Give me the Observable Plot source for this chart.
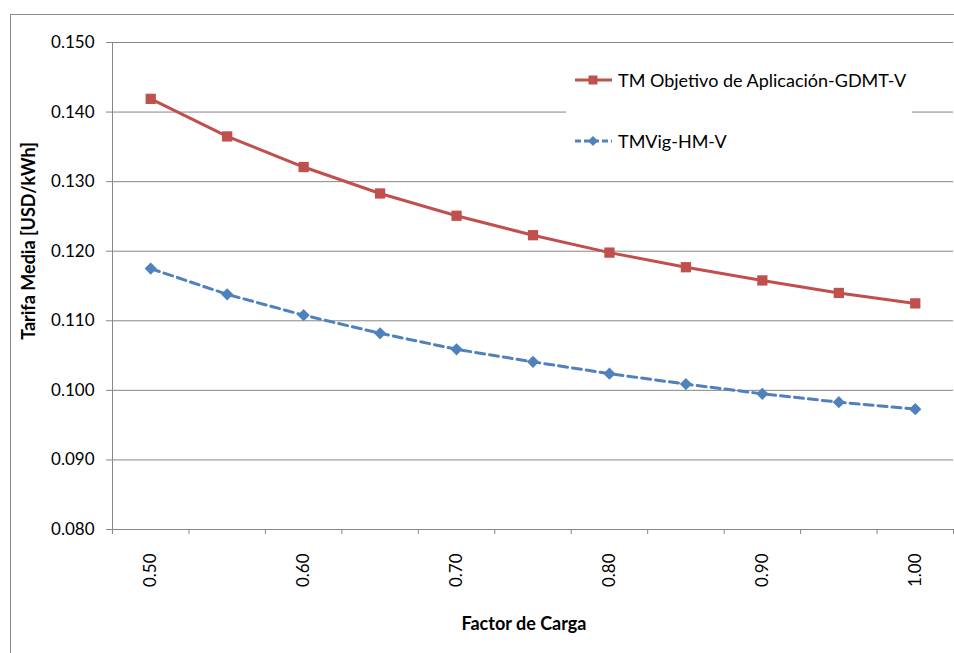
<!DOCTYPE html>
<html>
<head>
<meta charset="utf-8">
<script src="https://cdn.jsdelivr.net/npm/d3@7"></script>
<script src="https://cdn.jsdelivr.net/npm/@observablehq/plot@0.6"></script>
<style>
  html, body { margin: 0; padding: 0; background: #fff; }
  #wrap { position: relative; width: 954px; height: 653px; overflow: hidden; font-family: Lato, "Open Sans", sans-serif; }
  #frame { position: absolute; left: 10px; top: 14px; width: 1000px; height: 700px; border-left: 1px solid #8c8c8c; border-top: 1px solid #8c8c8c; }
  #legend { position: absolute; left: 566px; top: 58px; width: 346px; height: 104px; background: #fff; font-size: 18px; color: #000; }
  .item { position: absolute; left: 8px; display: flex; align-items: center; height: 24px; }
  .item svg { margin-right: 4px; }
  svg.plot text { fill: #000; }
</style>
</head>
<body>
<div id="wrap">
  <div id="frame"></div>
  <div id="chart" style="position:absolute;left:0;top:0;"></div>
  <div id="legend"></div>
</div>
<script>
const categories = [0.50, 0.55, 0.60, 0.65, 0.70, 0.75, 0.80, 0.85, 0.90, 0.95, 1.00];
const tmObjetivo = [0.1419, 0.1365, 0.1321, 0.1283, 0.1251, 0.1223, 0.1198, 0.1177, 0.1158, 0.1140, 0.1125];
const tmVig = [0.1175, 0.1138, 0.1108, 0.1082, 0.1059, 0.1041, 0.1024, 0.1009, 0.0995, 0.0983, 0.0973];
const seriesNames = ["TM Objetivo de Aplicación-GDMT-V", "TMVig-HM-V"];
const xLabelTicks = [0.50, 0.60, 0.70, 0.80, 0.90, 1.00];
const yTicks = [0.080, 0.090, 0.100, 0.110, 0.120, 0.130, 0.140, 0.150];
const xTitle = "Factor de Carga";
const yTitle = "Tarifa Media [USD/kWh]";

const red = "#C0504D", blue = "#4F81BD", grid = "#868686";
const step = 0.05;
const xDomain = [categories[0] - step / 2, categories[categories.length - 1] + step / 2];
const boundaries = d3.range(categories.length + 1).map(i => xDomain[0] + i * step);

const dataA = categories.map((c, i) => ({x: c, y: tmObjetivo[i]}));
const dataB = categories.map((c, i) => ({x: c, y: tmVig[i]}));

const plot = Plot.plot({
  width: 954,
  height: 653,
  marginLeft: 112,
  marginRight: 1,
  marginTop: 42,
  marginBottom: 124,
  style: {fontFamily: "Lato, 'Open Sans', sans-serif", fontSize: "17px", background: "transparent"},
  x: {type: "linear", domain: xDomain},
  y: {domain: [0.08, 0.15]},
  marks: [
    Plot.ruleY(yTicks.slice(1), {stroke: grid, strokeWidth: 1}),
    Plot.ruleY([yTicks[0]], {stroke: grid, strokeWidth: 1}),
    Plot.ruleX([xDomain[0]], {stroke: grid, strokeWidth: 1}),
    Plot.axisY({ticks: yTicks, tickFormat: ".3f", tickSize: 6, tickPadding: 12, stroke: grid, label: null}),
    Plot.axisX({ticks: boundaries, tickFormat: () => "", tickSize: 5, stroke: grid, label: null}),
    Plot.axisX({ticks: xLabelTicks, tickFormat: ".2f", tickSize: 0, tickRotate: -90, tickPadding: 24, label: null}),
    Plot.line(dataA, {x: "x", y: "y", stroke: red, strokeWidth: 3}),
    Plot.dot(dataA, {x: "x", y: "y", symbol: "square", r: 5.8, fill: red, stroke: null}),
    Plot.line(dataB, {x: "x", y: "y", stroke: blue, strokeWidth: 3, strokeDasharray: "9,5"}),
    Plot.dot(dataB, {x: "x", y: "y", symbol: "diamond2", r: 5.5, fill: blue, stroke: null}),
    Plot.text([xTitle], {frameAnchor: "bottom", textAnchor: "middle", dy: 100, dx: -9, fontWeight: "bold", fontSize: 18}),
    Plot.text([yTitle], {frameAnchor: "left", textAnchor: "middle", rotate: -90, dx: -83, dy: -45, fontWeight: "bold", fontSize: 18})
  ]
});
plot.classList.add("plot");
document.getElementById("chart").appendChild(plot);

const legend = document.getElementById("legend");
const swatches = [
  {name: seriesNames[0], color: red, dash: null, marker: "square", top: 10},
  {name: seriesNames[1], color: blue, dash: "6,3", marker: "diamond", top: 71}
];
swatches.forEach(s => {
  const item = document.createElement("div");
  item.className = "item";
  item.style.top = s.top + "px";
  const ns = "http://www.w3.org/2000/svg";
  const svg = document.createElementNS(ns, "svg");
  svg.setAttribute("width", 40); svg.setAttribute("height", 24);
  const line = document.createElementNS(ns, "line");
  line.setAttribute("x1", 1); line.setAttribute("x2", 38);
  line.setAttribute("y1", 12); line.setAttribute("y2", 12);
  line.setAttribute("stroke", s.color); line.setAttribute("stroke-width", 3);
  if (s.dash) line.setAttribute("stroke-dasharray", s.dash);
  svg.appendChild(line);
  const m = document.createElementNS(ns, s.marker === "square" ? "rect" : "path");
  if (s.marker === "square") {
    m.setAttribute("x", 14.5); m.setAttribute("y", 7.5); m.setAttribute("width", 9); m.setAttribute("height", 9);
  } else {
    m.setAttribute("d", "M19,7 L24,12 L19,17 L14,12 Z");
  }
  m.setAttribute("fill", s.color);
  svg.appendChild(m);
  item.appendChild(svg);
  const t = document.createElement("span");
  t.textContent = s.name;
  item.appendChild(t);
  legend.appendChild(item);
});
</script>
</body>
</html>
